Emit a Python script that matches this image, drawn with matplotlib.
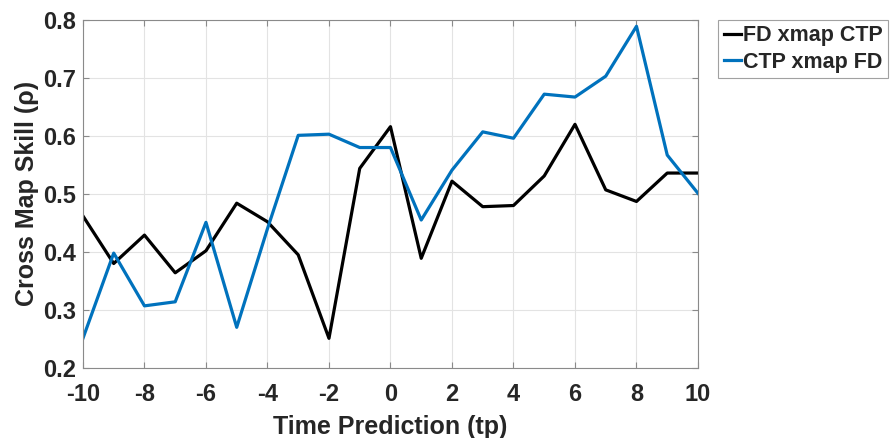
import matplotlib.pyplot as plt

plt.rcParams['font.family'] = ['Liberation Sans', 'DejaVu Sans']
plt.rcParams['font.weight'] = 'bold'
plt.rcParams['axes.labelweight'] = 'bold'
plt.rcParams['axes.unicode_minus'] = False

tp = list(range(-10, 11))
fd_xmap_ctp = [0.462, 0.380, 0.429, 0.364, 0.402, 0.484, 0.452, 0.395, 0.251, 0.544, 0.616,
               0.389, 0.522, 0.478, 0.480, 0.531, 0.620, 0.507, 0.487, 0.536, 0.536]
ctp_xmap_fd = [0.251, 0.398, 0.307, 0.314, 0.451, 0.270, 0.440, 0.601, 0.603, 0.580, 0.580,
               0.455, 0.541, 0.607, 0.596, 0.672, 0.667, 0.703, 0.789, 0.567, 0.501]

fig = plt.figure(figsize=(8.92, 4.38), dpi=100)
ax = fig.add_axes([0.093, 0.16, 0.6895, 0.7945])

ax.plot(tp, fd_xmap_ctp, color='black', linewidth=2.3, label='FD xmap CTP')
ax.plot(tp, ctp_xmap_fd, color='#0072BD', linewidth=2.3, label='CTP xmap FD')

ax.set_xlim(-10, 10)
ax.set_ylim(0.2, 0.8)
ax.set_xticks(range(-10, 11, 2))
ax.set_yticks([0.2, 0.3, 0.4, 0.5, 0.6, 0.7, 0.8])
ax.grid(True, color='#e3e3e3', linewidth=0.8)
ax.set_axisbelow(True)
for s in ax.spines.values():
    s.set_color('#8a8a8a')
    s.set_linewidth(0.8)
ax.tick_params(direction='in', length=4, width=0.8, color='#8a8a8a',
               top=True, right=True, labelsize=17, labelcolor='#262626')
ax.tick_params(axis='x', pad=11)
ax.tick_params(axis='y', pad=5)

ax.set_xlabel('Time Prediction (tp)', fontsize=18, color='#262626', labelpad=6)
ax.set_ylabel('Cross Map Skill (ρ)', fontsize=18, color='#262626', labelpad=3)

leg = ax.legend(loc='upper left', bbox_to_anchor=(1.033, 1.0), fontsize=15.5,
                handlelength=0.8, handletextpad=0.1, borderpad=0.25,
                labelspacing=0.25, fancybox=False, borderaxespad=0)
leg.get_frame().set_edgecolor('#8a8a8a')
leg.get_frame().set_linewidth(0.8)
for t in leg.get_texts():
    t.set_color('#262626')

fig.savefig('out.png', dpi=100)
